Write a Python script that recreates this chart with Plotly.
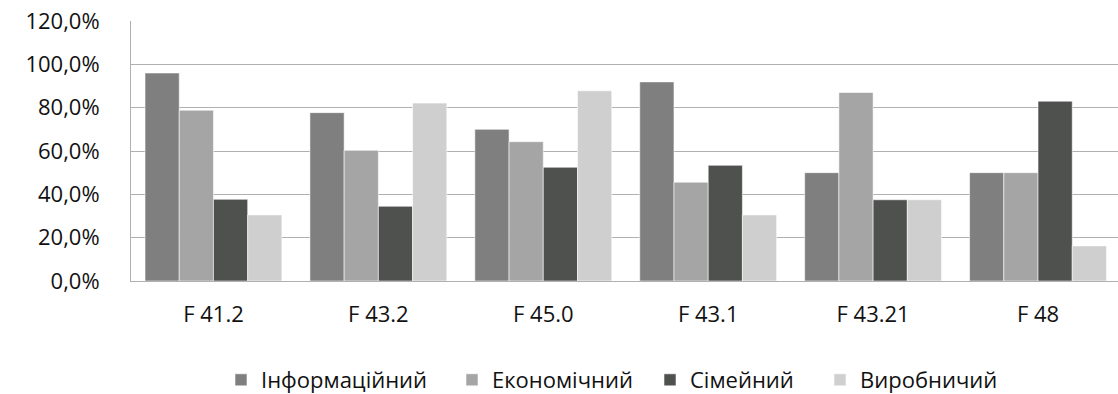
import plotly.graph_objects as go

# Categories (diagnosis codes) and shares per factor, as fractions
categories = ["F 41.2", "F 43.2", "F 45.0", "F 43.1", "F 43.21", "F 48"]
informatsiinyi = [0.960, 0.777, 0.700, 0.919, 0.500, 0.500]
ekonomichnyi = [0.788, 0.603, 0.643, 0.456, 0.870, 0.500]
simeinyi = [0.377, 0.345, 0.525, 0.534, 0.375, 0.830]
vyrobnychyi = [0.305, 0.821, 0.878, 0.305, 0.375, 0.162]

series_names = ["Інформаційний", "Економічний", "Сімейний", "Виробничий"]
y_tick_values = [0.0, 0.2, 0.4, 0.6, 0.8, 1.0, 1.2]
y_tick_labels = ["0,0%", "20,0%", "40,0%", "60,0%", "80,0%", "100,0%", "120,0%"]

colors = ["#7f7f7f", "#a5a5a5", "#4f514f", "#cfcfcf"]
legend_x = [221, 452, 650, 820]  # left edge of each legend entry, px
W, H = 1118, 394
FONT = "Open Sans"
FS = 22

fig = go.Figure()
all_series = [informatsiinyi, ekonomichnyi, simeinyi, vyrobnychyi]
for i, (name, vals) in enumerate(zip(series_names, all_series)):
    leg = "legend" if i == 0 else f"legend{i + 1}"
    fig.add_trace(go.Bar(
        x=categories, y=vals, name=name,
        marker=dict(color=colors[i],
                    line=dict(color="rgba(255,255,255,0.55)", width=1)),
        legend=leg,
    ))

layout_legends = {}
for i in range(4):
    key = "legend" if i == 0 else f"legend{i + 1}"
    layout_legends[key] = dict(
        xref="container", yref="container",
        x=legend_x[i] / W, xanchor="left",
        y=1 - 380 / H, yanchor="middle",
        orientation="h", bgcolor="rgba(0,0,0,0)", borderwidth=0,
        font=dict(family=FONT, size=FS, color="#111111"),
    )

grid = "#b0b0b0"
fig.update_layout(
    width=W, height=H,
    margin=dict(l=131, r=0, t=21, b=113),
    paper_bgcolor="white", plot_bgcolor="white",
    barmode="group", bargap=0.17, bargroupgap=0.0,
    font=dict(family=FONT, size=FS, color="#111111"),
    showlegend=True,
    **layout_legends,
)
fig.update_xaxes(
    type="category", range=[-0.5, 5.485],
    showgrid=False, showline=True, linecolor=grid, linewidth=1,
    ticks="", ticklabelstandoff=14,
    tickfont=dict(family=FONT, size=FS, color="#111111"),
)
fig.update_yaxes(
    range=[0, 1.2], tickvals=y_tick_values, ticktext=y_tick_labels,
    showgrid=True, gridcolor=grid, gridwidth=1,
    showline=True, linecolor=grid, linewidth=1,
    zeroline=False, ticks="", ticklabelstandoff=26,
    tickfont=dict(family=FONT, size=FS, color="#111111"),
)

fig.write_html("out.html")
